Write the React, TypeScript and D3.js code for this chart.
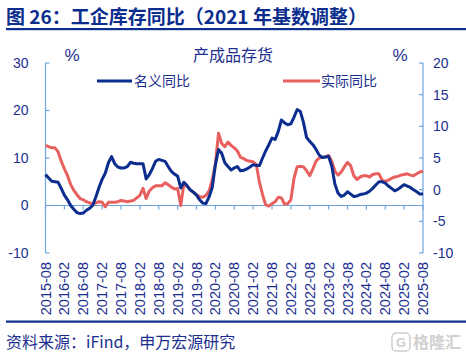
import React from "react";
import * as d3 from "d3";

// Monthly data, 2015-08 .. 2025-08 (121 points)
const nominalYoY: number[] = [
  6.5, 5.8, 5.1, 5.0, 4.9, 3.6, 2.2, 1.2, 0.0, -0.8,
  -1.5, -1.7, -1.6, -1.0, -0.6, 0.0, 1.8, 3.8, 5.5, 6.8,
  9.0, 10.3, 8.8, 8.1, 7.9, 7.9, 8.2, 9.1, 8.9, 8.8,
  8.8, 8.8, 5.6, 6.5, 7.8, 9.3, 9.7, 9.5, 9.3, 8.2,
  7.2, 6.6, 6.2, 3.7, 4.9, 4.2, 3.3, 2.8, 2.2, 1.2,
  0.5, 0.4, 1.8, 3.8, 8.5, 11.8, 11.0, 9.0, 8.2, 7.5,
  7.9, 8.2, 7.3, 7.4, 7.7, 8.1, 8.6, 8.4, 8.4, 10.0,
  11.5, 12.8, 14.2, 13.9, 15.6, 18.0, 17.4, 17.0, 17.2, 18.6,
  20.2, 19.8, 17.5, 14.3, 13.5, 12.8, 11.8, 10.6, 10.1, 10.2,
  10.3, 8.3, 4.5, 2.6, 1.9, 2.2, 2.9, 2.4, 1.9, 2.0,
  2.3, 2.4, 2.6, 3.0, 3.6, 4.3, 5.0, 5.0, 4.7, 4.1,
  3.6, 3.1, 3.4, 3.9, 4.4, 4.1, 3.8, 3.3, 2.9, 2.4,
  2.4,
];

const realYoY: number[] = [
  7.0, 6.8, 6.6, 6.6, 6.0, 4.5, 3.3, 2.2, 0.8, -0.1,
  -0.8, -1.4, -1.6, -1.9, -2.1, -2.3, -2.1, -1.9, -2.0, -2.7,
  -2.0, -2.0, -2.0, -1.9, -1.7, -1.8, -1.9, -1.8, -1.7, -1.3,
  -0.9, 0.2, -1.4, -0.2, 0.3, 0.6, 0.6, 0.6, 1.1, 0.8,
  0.4, 0.1, 0.2, -2.5, 1.0, 0.5, 0.0, -0.4, -0.8, -1.1,
  -1.2, -0.9, -0.2, 1.5, 4.1, 8.9, 7.3, 6.8, 7.5, 7.0,
  6.6, 6.1, 5.1, 4.9, 4.6, 4.5, 4.4, 4.0, 1.2, -0.8,
  -2.4, -2.6, -2.2, -1.9, -1.2, -1.3, -2.3, -2.2, -1.6, 1.8,
  3.6, 3.7, 3.6, 3.0, 2.2, 3.3, 4.5, 5.0, 5.1, 5.2,
  5.4, 4.5, 2.9, 2.3, 2.8, 3.6, 4.3, 3.8, 2.2, 1.6,
  2.0, 2.2, 2.2, 2.0, 2.4, 2.5, 2.5, 1.5, 1.3, 1.5,
  1.8, 2.0, 2.1, 2.3, 2.4, 2.5, 2.3, 2.2, 2.5, 2.8,
  2.9,
];

const xTickLabels: string[] = [
  "2015-08", "2016-02", "2016-08", "2017-02", "2017-08", "2018-02", "2018-08",
  "2019-02", "2019-08", "2020-02", "2020-08", "2021-02", "2021-08", "2022-02",
  "2022-08", "2023-02", "2023-08", "2024-02", "2024-08", "2025-02", "2025-08",
];
const leftTicks: number[] = [-10, 0, 10, 20, 30];
const rightTicks: number[] = [-10, -5, 0, 5, 10, 15, 20];

const NAVY = "#0a2d8e";
const RED = "#e8605e";
const AXIS = "#6ea6dc";
const TEXT = "#1c2f8f";

export default function App() {
  const W = 466;
  const H = 360;
  const x0 = 45.5;
  const x1 = 423;
  const x = d3.scaleLinear().domain([0, nominalYoY.length - 1]).range([x0, x1]);
  const yL = d3.scaleLinear().domain([-10, 30]).range([253, 63]);
  const yR = d3.scaleLinear().domain([-10, 20]).range([253, 63]);

  const lineL = d3.line<number>().x((_, i) => x(i)).y((d) => yL(d));
  const lineR = d3.line<number>().x((_, i) => x(i)).y((d) => yR(d));

  const cjk = "'Noto Sans CJK SC', 'Noto Sans', sans-serif";
  const latin = "'Liberation Sans', Arial, sans-serif";

  return (
    <svg
      width={W}
      height={H}
      viewBox={`0 0 ${W} ${H}`}
      style={{ position: "absolute", left: 0, top: 0, background: "#fff" }}
    >
      {/* Title */}
      <text x={6} y={24} fontFamily={cjk} fontWeight={700} fontSize={19} fill={NAVY}>
        图 26：工企库存同比（2021 年基数调整）
      </text>
      <rect x={6} y={28} width={460} height={2.2} fill={NAVY} />

      {/* Axis headers */}
      <text x={72} y={61} textAnchor="middle" fontFamily={latin} fontSize={17} fill={TEXT}>%</text>
      <text x={233} y={61} textAnchor="middle" fontFamily={cjk} fontSize={16} fill={TEXT}>产成品存货</text>
      <text x={400} y={61} textAnchor="middle" fontFamily={latin} fontSize={17} fill={TEXT}>%</text>

      {/* Left axis */}
      <line x1={x0} x2={x0} y1={yL(30)} y2={yL(-10)} stroke={AXIS} strokeWidth={1.2} />
      {leftTicks.map((t) => (
        <g key={"l" + t}>
          <line x1={x0} x2={x0 + 4} y1={yL(t)} y2={yL(t)} stroke={AXIS} strokeWidth={1.2} />
          <text x={28.5} y={yL(t)} dy="0.35em" textAnchor="end" fontFamily={latin} fontSize={14} fill={TEXT}>
            {t}
          </text>
        </g>
      ))}

      {/* Right axis */}
      <line x1={x1} x2={x1} y1={yR(20)} y2={yR(-10)} stroke={AXIS} strokeWidth={1.2} />
      {rightTicks.map((t) => (
        <g key={"r" + t}>
          <line x1={x1 - 4} x2={x1} y1={yR(t)} y2={yR(t)} stroke={AXIS} strokeWidth={1.2} />
          <text x={433} y={yR(t)} dy="0.35em" textAnchor="start" fontFamily={latin} fontSize={14} fill={TEXT}>
            {t}
          </text>
        </g>
      ))}

      {/* X axis at left zero */}
      <line x1={x0} x2={x1} y1={yL(0)} y2={yL(0)} stroke={AXIS} strokeWidth={1.2} />
      {xTickLabels.map((lab, i) => {
        const xp = x(i * 6);
        return (
          <g key={lab}>
            <line x1={xp} x2={xp} y1={yL(0)} y2={yL(0) + 4} stroke={AXIS} strokeWidth={1.2} />
            <text
              transform={`translate(${xp + 5},262) rotate(-90)`}
              textAnchor="end"
              fontFamily={latin}
              fontSize={14.5}
              fill={TEXT}
            >
              {lab}
            </text>
          </g>
        );
      })}

      {/* Series */}
      <path d={lineR(realYoY) || ""} fill="none" stroke={RED} strokeWidth={3} strokeLinejoin="round" />
      <path d={lineL(nominalYoY) || ""} fill="none" stroke={NAVY} strokeWidth={3} strokeLinejoin="round" />

      {/* Legend */}
      <line x1={97} x2={132} y1={81} y2={81} stroke={NAVY} strokeWidth={3} />
      <text x={134} y={81} dy="0.35em" fontFamily={cjk} fontSize={14} fill={TEXT}>名义同比</text>
      <line x1={283} x2={320} y1={81} y2={81} stroke={RED} strokeWidth={3} />
      <text x={321} y={81} dy="0.35em" fontFamily={cjk} fontSize={14} fill={TEXT}>实际同比</text>

      {/* Footer */}
      <rect x={6} y={320.5} width={460} height={2.2} fill={NAVY} />
      <text x={6} y={348} fontFamily={cjk} fontSize={16} fill={TEXT}>
        资料来源：iFind，申万宏源研究
      </text>
      {/* Watermark */}
      <rect x={392} y={333} width={18} height={18} rx={4} fill="none" stroke="#cfcfcf" strokeWidth={1.5} />
      <text x={401} y={347} textAnchor="middle" fontFamily={latin} fontWeight={700} fontSize={13} fill="#cfcfcf">G</text>
      <text x={413} y={348} fontFamily={cjk} fontWeight={700} fontSize={16} fill="#d0d0d0">格隆汇</text>
    </svg>
  );
}
